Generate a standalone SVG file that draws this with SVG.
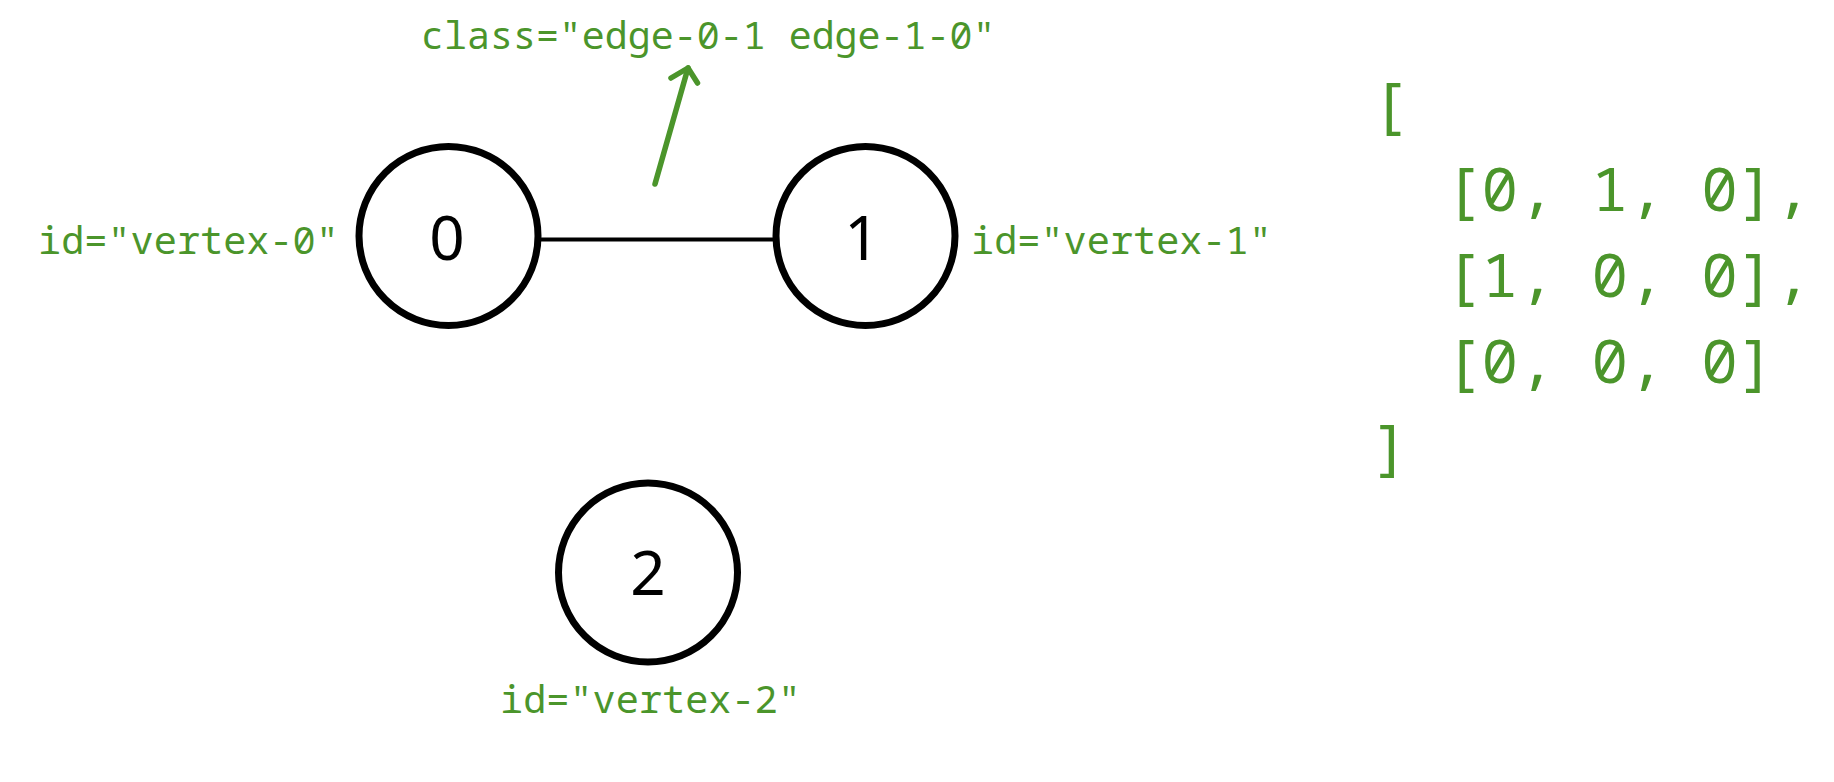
<svg xmlns="http://www.w3.org/2000/svg" width="1834" height="782" viewBox="0 0 1834 782">
<style>
.node circle{fill:#fff;stroke:#000;stroke-width:7}
.node text.num{font-family:"Noto Sans",sans-serif;font-size:62px;fill:#000;text-anchor:middle}
.lbl{font-family:"Noto Sans Mono","DejaVu Sans Mono",monospace;fill:#4b952b}
.vlbl{font-size:38.6px}
.mat{font-size:61px}
.edge{stroke:#000;stroke-width:4;fill:none}
.ann{stroke:#4b952b;stroke-width:5.5;fill:none;stroke-linecap:round;stroke-linejoin:round}
</style>
<rect width="1834" height="782" fill="#fff"/>
<g id="connectors">
<line class="edge" x1="539" y1="239.5" x2="776" y2="239.5"/>
<path class="ann" d="M655 184 L688 68"/>
<path class="ann" d="M671 78 L688 68 L697.5 83"/>
</g>
<g id="vertex-0" class="node">
<circle cx="448.5" cy="236" r="89.5"/>
<text class="num" x="447" y="260">0</text>
</g>
<g id="vertex-1" class="node">
<circle cx="865.5" cy="236" r="89.5"/>
<text class="num" x="862" y="260">1</text>
</g>
<g id="vertex-2" class="node">
<circle cx="648" cy="572.5" r="89.5"/>
<text class="num" x="648" y="595">2</text>
</g>
<g id="labels">
<text class="lbl" x="421" y="49" font-size="38.3">class="edge-0-1 edge-1-0"</text>
<text class="lbl vlbl" x="38" y="254">id="vertex-0"</text>
<text class="lbl vlbl" x="971" y="254">id="vertex-1"</text>
<text class="lbl vlbl" x="500" y="713">id="vertex-2"</text>
</g>
<g id="matrix" class="lbl mat">
<text x="1372" y="126">[</text>
<text x="1445" y="211">[0, 1, 0],</text>
<text x="1445" y="297">[1, 0, 0],</text>
<text x="1445" y="383">[0, 0, 0]</text>
<text x="1372" y="468">]</text>
</g>
</svg>
